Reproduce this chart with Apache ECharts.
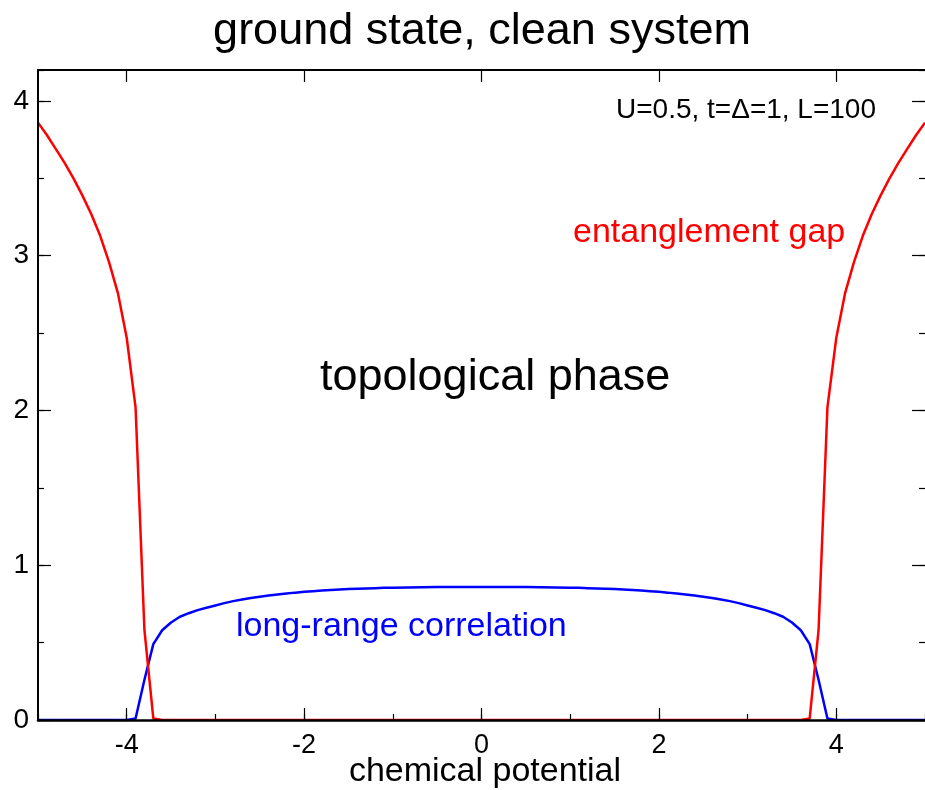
<!DOCTYPE html>
<html>
<head>
<meta charset="utf-8">
<script src="https://cdn.jsdelivr.net/npm/echarts@6/dist/echarts.min.js"></script>
<style>
  html, body { margin: 0; padding: 0; background: #fff; }
  #chart { width: 925px; height: 790px; }
</style>
</head>
<body>
<div id="chart"></div>
<script>
// entanglement gap (red)
const gapMu = [-5.0, -4.9, -4.8, -4.7, -4.6, -4.5, -4.4, -4.3, -4.2, -4.1, -4.0, -3.9, -3.8, -3.7, -3.6,
  3.6, 3.7, 3.8, 3.9, 4.0, 4.1, 4.2, 4.3, 4.4, 4.5, 4.6, 4.7, 4.8, 4.9, 5.0]
const gapVal = [3.86, 3.78, 3.69, 3.60, 3.50, 3.39, 3.27, 3.13, 2.96, 2.76, 2.47, 2.02, 0.58, 0.01, 0,
  0, 0.01, 0.58, 2.02, 2.47, 2.76, 2.96, 3.13, 3.27, 3.39, 3.50, 3.60, 3.69, 3.78, 3.86]

// long-range correlation (blue)
const corrMu = [-5.0, -4.0, -3.9, -3.8, -3.7, -3.6, -3.5, -3.4, -3.3, -3.2, -3.1, -3.0, -2.9, -2.8, -2.7, -2.6,
  -2.5, -2.4, -2.3, -2.2, -2.1, -2.0, -1.9, -1.8, -1.7, -1.6, -1.5, -1.4, -1.3, -1.2, -1.1, -1.0, -0.5, 0,
  0.5, 1.0, 1.1, 1.2, 1.3, 1.4, 1.5, 1.6, 1.7, 1.8, 1.9, 2.0, 2.1, 2.2, 2.3, 2.4, 2.5, 2.6, 2.7, 2.8, 2.9,
  3.0, 3.1, 3.2, 3.3, 3.4, 3.5, 3.6, 3.7, 3.8, 3.9, 4.0, 5.0]
const corrVal = [0, 0, 0.01, 0.26, 0.49, 0.58, 0.63, 0.667, 0.69, 0.71, 0.725, 0.74, 0.755, 0.768, 0.778, 0.788,
  0.797, 0.804, 0.811, 0.817, 0.823, 0.828, 0.832, 0.836, 0.840, 0.843, 0.846, 0.848, 0.850, 0.852, 0.854, 0.855, 0.859, 0.86,
  0.859, 0.855, 0.854, 0.852, 0.850, 0.848, 0.846, 0.843, 0.840, 0.836, 0.832, 0.828, 0.823, 0.817, 0.811, 0.804, 0.797, 0.788, 0.778, 0.768, 0.755,
  0.74, 0.725, 0.71, 0.69, 0.667, 0.63, 0.58, 0.49, 0.26, 0.01, 0, 0]

const xMajor = [-4, -2, 0, 2, 4]
const yMajor = [0, 1, 2, 3, 4]

const FONT = "'Liberation Sans', Arial, Helvetica, sans-serif"
const gridBox = { left: 38, right: 0, top: 70, bottom: 70 }
const tickLine = { color: '#000', width: 1.2 }

let chart = echarts.init(document.getElementById('chart'), null, { renderer: 'canvas' })

function pairs (xs, ys) {
  return xs.map((x, i) => [x, ys[i]])
}

chart.setOption({
  animation: false,
  grid: [
    Object.assign({ containLabel: false }, gridBox),
    Object.assign({ containLabel: false }, gridBox)
  ],
  xAxis: [
    {
      // bottom, major ticks + labels
      gridIndex: 0, type: 'value', position: 'bottom', min: -5, max: 5, z: 5,
      axisLine: { show: true, onZero: false, lineStyle: { color: '#000', width: 2.5 } },
      axisTick: { show: true, inside: true, length: 12, customValues: xMajor, lineStyle: tickLine },
      axisLabel: { show: true, customValues: xMajor, margin: 12, color: '#000', fontSize: 27, fontFamily: FONT },
      splitLine: { show: false }
    },
    {
      // top, major ticks only
      gridIndex: 0, type: 'value', position: 'top', min: -5, max: 5, z: 5,
      axisLine: { show: true, onZero: false, lineStyle: { color: '#000', width: 2 } },
      axisTick: { show: true, inside: true, length: 12, customValues: xMajor, lineStyle: tickLine },
      axisLabel: { show: false },
      splitLine: { show: false }
    },
    {
      // bottom minor ticks
      gridIndex: 1, type: 'value', position: 'bottom', min: -5, max: 5, interval: 1, z: 5,
      axisLine: { show: false, onZero: false },
      axisTick: { show: true, inside: true, length: 6, lineStyle: tickLine },
      axisLabel: { show: false },
      splitLine: { show: false }
    }
  ],
  yAxis: [
    {
      gridIndex: 0, type: 'value', position: 'left', min: 0, max: 4.2, z: 5,
      axisLine: { show: true, onZero: false, lineStyle: { color: '#000', width: 2 } },
      axisTick: { show: true, inside: true, length: 13, customValues: yMajor, lineStyle: tickLine },
      axisLabel: { show: true, customValues: yMajor, margin: 9, color: '#000', fontSize: 28, fontFamily: FONT },
      splitLine: { show: false }
    },
    {
      gridIndex: 0, type: 'value', position: 'right', min: 0, max: 4.2, z: 5,
      axisLine: { show: false, onZero: false },
      axisTick: { show: true, inside: true, length: 13, customValues: yMajor, lineStyle: tickLine },
      axisLabel: { show: false },
      splitLine: { show: false }
    },
    {
      gridIndex: 1, type: 'value', position: 'left', min: 0, max: 4.2, interval: 0.5, z: 5,
      axisLine: { show: false, onZero: false },
      axisTick: { show: true, inside: true, length: 6, lineStyle: tickLine },
      axisLabel: { show: false },
      splitLine: { show: false }
    },
    {
      gridIndex: 1, type: 'value', position: 'right', min: 0, max: 4.2, interval: 0.5, z: 5,
      axisLine: { show: false, onZero: false },
      axisTick: { show: true, inside: true, length: 6, lineStyle: tickLine },
      axisLabel: { show: false },
      splitLine: { show: false }
    }
  ],
  series: [
    {
      name: 'long-range correlation',
      type: 'line',
      xAxisIndex: 0,
      yAxisIndex: 0,
      data: pairs(corrMu, corrVal),
      showSymbol: false,
      smooth: false,
      z: 2,
      lineStyle: { color: '#0000ff', width: 2.5 }
    },
    {
      name: 'entanglement gap',
      type: 'line',
      xAxisIndex: 0,
      yAxisIndex: 0,
      data: pairs(gapMu, gapVal),
      showSymbol: false,
      smooth: false,
      z: 3,
      lineStyle: { color: '#ff0000', width: 2.5 }
    }
  ],
  graphic: [
    { type: 'text', x: 482, y: 32, z: 10, style: { text: 'ground state, clean system', font: '45px ' + FONT, fill: '#000', align: 'center', verticalAlign: 'middle' } },
    { type: 'text', x: 616, y: 110, z: 10, style: { text: 'U=0.5, t=\u0394=1, L=100', font: '28px ' + FONT, fill: '#000', align: 'left', verticalAlign: 'middle' } },
    { type: 'text', x: 573, y: 233, z: 10, style: { text: 'entanglement gap', font: '34px ' + FONT, fill: '#ff0000', align: 'left', verticalAlign: 'middle' } },
    { type: 'text', x: 320, y: 378, z: 10, style: { text: 'topological phase', font: '45px ' + FONT, fill: '#000', align: 'left', verticalAlign: 'middle' } },
    { type: 'text', x: 236, y: 627, z: 10, style: { text: 'long-range correlation', font: '34px ' + FONT, fill: '#0000ff', align: 'left', verticalAlign: 'middle' } },
    { type: 'text', x: 485, y: 772, z: 10, style: { text: 'chemical potential', font: '34px ' + FONT, fill: '#000', align: 'center', verticalAlign: 'middle' } }
  ]
})
</script>
</body>
</html>
